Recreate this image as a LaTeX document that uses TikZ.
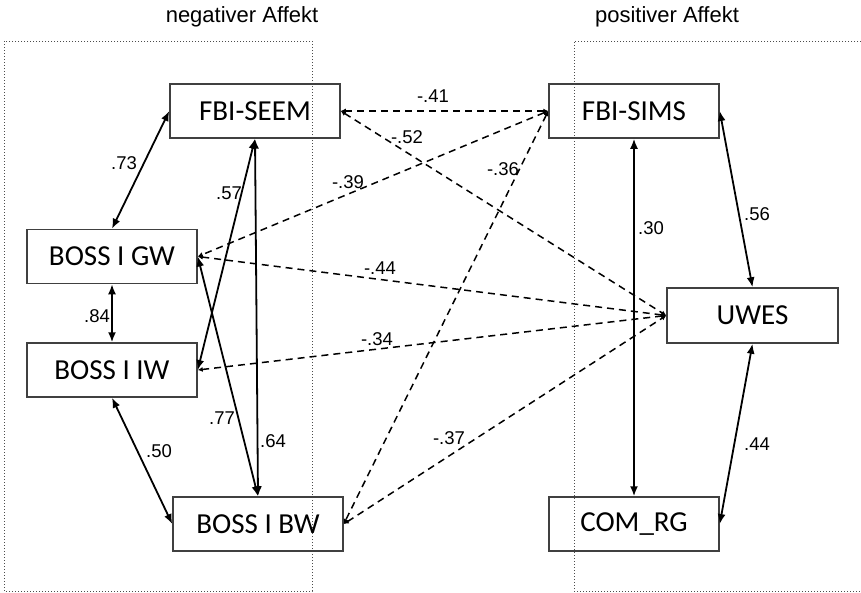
\documentclass[tikz,border=0pt]{standalone}
\usepackage{fontspec}
\setmainfont{Liberation Sans}
\newfontfamily\boxfont{Carlito}
\usetikzlibrary{arrows.meta}
\tikzset{
  var/.style={draw=black!75, line width=1.5pt, minimum width=170pt, minimum height=54pt,
    inner sep=0pt, font=\boxfont\fontsize{29}{32}\selectfont},
  corr/.style={line width=1.8pt, {Latex[length=10pt,width=8pt]}-{Latex[length=10pt,width=8pt]}},
  neg/.style={line width=1.5pt, dash pattern=on 7pt off 5pt,
    {Latex[length=5pt,width=5pt]}-{Latex[length=5pt,width=5pt]}},
  coef/.style={font=\fontsize{18.5}{21}\selectfont, inner sep=0pt},
  title/.style={font=\fontsize{22}{26}\selectfont, inner sep=0pt},
  group/.style={draw=black!70, line width=1pt, dotted}
}
\begin{document}
\begin{tikzpicture}[x=1pt, y=-1pt]
\useasboundingbox (0,0) rectangle (861,592);

% group frames and headings
\draw[group] (4,41) rectangle (312,591);
\draw[group] (861,41) -- (574,41) -- (574,591) -- (861,591);
\node[title] (tneg) at (242,17) {negativer Affekt};
\node[title] (tpos) at (667,17) {positiver Affekt};

% variables
\node[var] (seem) at (255,111) {FBI-SEEM};
\node[var] (gw)   at (112,256.5) {BOSS I GW};
\node[var] (iw)   at (112,370) {BOSS I IW};
\node[var] (bw)   at (258,524) {BOSS I BW};
\node[var] (sims) at (634,111) {FBI-SIMS};
\node[var, minimum width=171pt, minimum height=55pt] (uwes) at (752.5,315.5) {UWES};
\node[var] (com)  at (634,524) {COM\_RG};

% positive correlations
\draw[corr] (seem.west) -- (gw.north);
\draw[corr] (seem.south) -- (iw.east);
\draw[corr] (seem.south) -- (bw.north);
\draw[corr] (gw.east) -- (bw.north);
\draw[corr] (gw.south) -- (iw.north);
\draw[corr] (iw.south) -- (bw.west);
\draw[corr] (sims.south) -- (com.north);
\draw[corr] (sims.east) -- (uwes.north);
\draw[corr] (uwes.south) -- (com.east);

% negative correlations
\draw[neg] (seem.east) -- (sims.west);
\draw[neg] (seem.east) -- (uwes.west);
\draw[neg] (sims.west) -- (gw.east);
\draw[neg] (sims.west) -- (bw.east);
\draw[neg] (gw.east) -- (uwes.west);
\draw[neg] (iw.east) -- (uwes.west);
\draw[neg] (bw.east) -- (uwes.west);

% coefficients
\node[coef] (c73) at (124,163) {.73};
\node[coef] (c57) at (229,193) {.57};
\node[coef] (c64) at (273,441) {.64};
\node[coef] (c77) at (222,418) {.77};
\node[coef] (c84) at (97,316) {.84};
\node[coef] (c50) at (159,451) {.50};
\node[coef] (c30) at (651,228) {.30};
\node[coef] (c56) at (757,214) {.56};
\node[coef] (c44) at (757,444) {.44};
\node[coef] (n41) at (433,96) {-.41};
\node[coef] (n52) at (407,137) {-.52};
\node[coef] (n39) at (348,182) {-.39};
\node[coef] (n36) at (503,169) {-.36};
\node[coef] (n44) at (380,268) {-.44};
\node[coef] (n34) at (377,339) {-.34};
\node[coef] (n37) at (449,438) {-.37};
\end{tikzpicture}
\end{document}
